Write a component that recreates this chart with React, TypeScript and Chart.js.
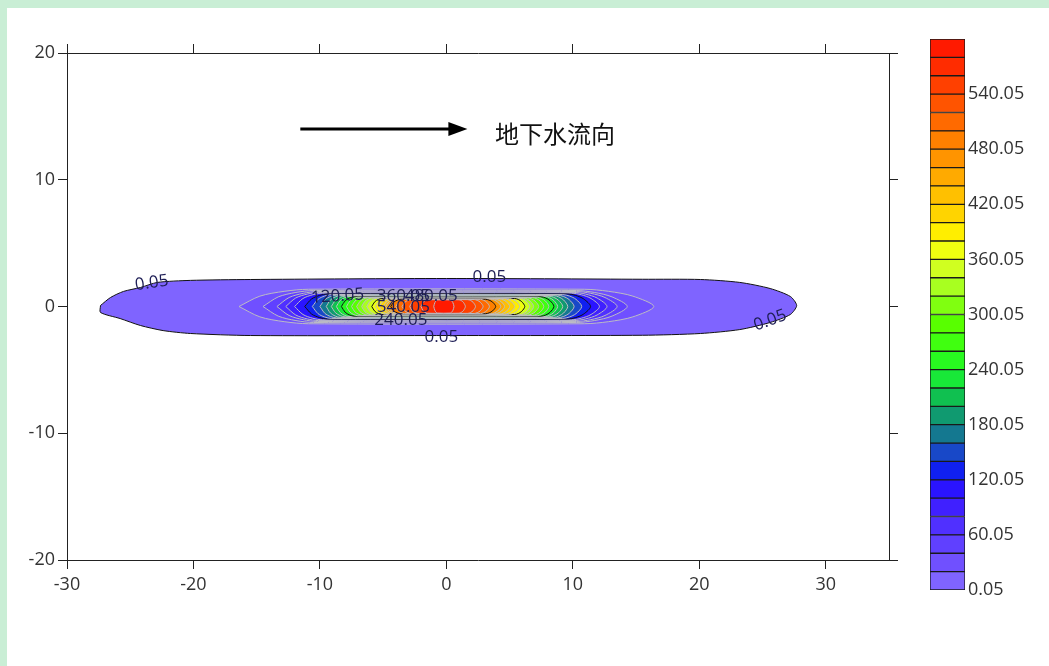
import { useEffect, useRef } from 'react';
import { Chart, registerables } from 'chart.js';
Chart.register(...registerables);

// ---- data ----
const xTicks = [-30, -20, -10, 0, 10, 20, 30];
const yTicks = [-20, -10, 0, 10, 20];

// contour levels (lower bound of each band)
const levels = [0.05, 20.05, 40.05, 60.05, 80.05, 100.05, 120.05, 140.05, 160.05, 180.05,
  200.05, 220.05, 240.05, 260.05, 280.05, 300.05, 320.05, 340.05, 360.05, 380.05,
  400.05, 420.05, 440.05, 460.05, 480.05, 500.05, 520.05, 540.05, 560.05, 580.05];
const topLevel = 600.05;
const colorbarTicks = [0.05, 60.05, 120.05, 180.05, 240.05, 300.05, 360.05, 420.05, 480.05, 540.05];

const bandColors = ['#7f64ff', '#7050ff', '#6040ff', '#5030ff', '#4020ff', '#2a14ff', '#1020f0', '#1848c8', '#147890', '#109a70',
  '#10c050', '#18e838', '#28fa20', '#40ff10', '#58ff00', '#80ff10', '#a8ff20', '#d0ff20', '#f0ff10', '#ffee00',
  '#ffd400', '#ffc000', '#ffaa00', '#ff9400', '#ff8000', '#ff6a00', '#ff5400', '#ff4000', '#ff2c00', '#ff1a00'];

// outermost (0.05) contour
const outerX = [-27.35, -26.56, -25.53, -24.19, -22.85, -20.24, -15.5, 0, 15.5, 20.1, 23.2, 25.6, 27.2, 27.7,
  27.2, 25.6, 23.2, 20.1, 15.5, 0, -15.5, -20.24, -22.4, -24.19, -25.8, -27.35, -27.35];
const outerY = [0.08, 0.71, 1.19, 1.5, 1.9, 2.06, 2.13, 2.21, 2.15, 2.13, 1.9, 1.42, 0.79, 0.08,
  -0.63, -1.26, -1.82, -2.13, -2.27, -2.29, -2.29, -2.13, -1.9, -1.5, -0.95, -0.47, 0.08];

// inner contours: left / right extent and half height per level (index 0 = outer, unused)
const leftExt = [27.5, 16.4, 14.5, 13.4, 12.7, 12.0, 11.2, 10.6, 10.0, 9.5, 9.1, 8.7, 8.3, 7.9, 7.5,
  7.1, 6.7, 6.3, 5.9, 5.6, 5.3, 5.0, 4.8, 4.6, 4.4, 4.0, 3.5, 2.9, 2.0, 1.0];
const rightExt = [27.6, 16.4, 14.3, 13.5, 12.7, 12.1, 11.4, 10.7, 10.1, 9.6, 9.2, 8.8, 8.5, 8.1, 7.7,
  7.3, 6.9, 6.6, 6.2, 5.8, 5.4, 5.0, 4.6, 4.3, 3.9, 3.4, 2.9, 2.3, 1.5, 0.6];
const halfHeight = [2.2, 1.36, 1.26, 1.18, 1.11, 1.05, 0.99, 0.94, 0.9, 0.86, 0.82, 0.79, 0.76, 0.73, 0.71,
  0.69, 0.67, 0.65, 0.63, 0.62, 0.61, 0.6, 0.59, 0.58, 0.57, 0.56, 0.55, 0.54, 0.53, 0.52];
const taper = [0, 5.5, 4.0, 3.2, 2.6, 2.2, 1.8, 1.5, 1.3, 1.1, 1.1, 1.0, 1.0, 0.9, 0.9,
  0.9, 0.8, 0.8, 0.8, 0.8, 0.8, 0.8, 0.8, 0.8, 0.8, 0.7, 0.7, 0.6, 0.5, 0.3];
const blackLevels = [0, 6, 12, 18, 24];

const contourLabels = [
  { text: '0.05', x: -23.3, y: 1.85, rot: -8 },
  { text: '0.05', x: 3.4, y: 2.3, rot: 0 },
  { text: '0.05', x: -0.4, y: -2.45, rot: 0 },
  { text: '0.05', x: 25.6, y: -1.1, rot: -20 },
  { text: '120.05', x: -8.6, y: 0.8, rot: -4 },
  { text: '360.05', x: -3.4, y: 0.8, rot: 0 },
  { text: '480.05', x: -1.2, y: 0.8, rot: 0 },
  { text: '240.05', x: -3.6, y: -1.05, rot: 0 },
  { text: '540.05', x: -3.4, y: -0.05, rot: 0 },
];

const arrowFrom = [-11.55, 14.0];
const arrowTo = [1.66, 14.0];
const flowText = '地下水流向';
const flowTextPos = [3.85, 13.6];

function contourPoints(k: number) {
  if (k === 0) return outerX.map((x, i) => ({ x, y: outerY[i] }));
  const L = leftExt[k], R = rightExt[k], b = halfHeight[k];
  const T = Math.min(taper[k], (L + R) * 0.45);
  const fx = [0, 0.3, 0.65, 1];
  const fy = [0, 0.6, 0.88, 1];
  const top: { x: number; y: number }[] = [];
  for (let i = 0; i < 4; i++) top.push({ x: -L + fx[i] * T, y: fy[i] * b });
  for (let i = 3; i >= 0; i--) top.push({ x: R - fx[i] * T, y: fy[i] * b });
  const bottom: { x: number; y: number }[] = [];
  for (let i = 1; i < 4; i++) bottom.push({ x: R - fx[i] * T, y: -fy[i] * b });
  for (let i = 3; i >= 0; i--) bottom.push({ x: -L + fx[i] * T, y: -fy[i] * b });
  return top.concat(bottom);
}

const annotate = {
  id: 'annotate',
  afterDatasetsDraw(chart: any) {
    const { ctx, scales } = chart;
    const sx = scales.x, sy = scales.y;
    ctx.save();
    // contour labels
    ctx.fillStyle = '#1e1e56';
    ctx.font = '17px "Open Sans"';
    ctx.textAlign = 'center';
    ctx.textBaseline = 'middle';
    for (const l of contourLabels) {
      ctx.save();
      ctx.translate(sx.getPixelForValue(l.x), sy.getPixelForValue(l.y));
      ctx.rotate((l.rot * Math.PI) / 180);
      ctx.fillText(l.text, 0, 0);
      ctx.restore();
    }
    // arrow
    const x0 = sx.getPixelForValue(arrowFrom[0]);
    const y0 = sy.getPixelForValue(arrowFrom[1]);
    const x1 = sx.getPixelForValue(arrowTo[0]);
    const y1 = sy.getPixelForValue(arrowTo[1]);
    ctx.strokeStyle = '#000';
    ctx.lineWidth = 3;
    ctx.beginPath();
    ctx.moveTo(x0, y0);
    ctx.lineTo(x1 - 16, y1);
    ctx.stroke();
    ctx.fillStyle = '#000';
    ctx.beginPath();
    ctx.moveTo(x1, y1);
    ctx.lineTo(x1 - 19, y1 - 7);
    ctx.lineTo(x1 - 19, y1 + 7);
    ctx.closePath();
    ctx.fill();
    // text
    ctx.fillStyle = '#111';
    ctx.font = '24px "Noto Sans CJK SC"';
    ctx.textAlign = 'left';
    ctx.textBaseline = 'middle';
    ctx.fillText(flowText, sx.getPixelForValue(flowTextPos[0]), sy.getPixelForValue(flowTextPos[1]));
    ctx.restore();
  },
};

const tickFont = { size: 18, family: '"Open Sans"' };

export default function App() {
  const mainRef = useRef<HTMLCanvasElement>(null);
  const barRef = useRef<HTMLCanvasElement>(null);

  useEffect(() => {
    const datasets = levels.map((lv, k) => ({
      label: String(lv),
      data: contourPoints(k),
      showLine: true,
      fill: 'shape',
      backgroundColor: bandColors[k],
      borderColor: blackLevels.includes(k) ? '#111' : '#bcbcc4',
      borderWidth: 1,
      pointRadius: 0,
      tension: k === 0 ? 0.25 : 0.3,
      order: 100 - k,
    }));

    const axisGrid = { display: true, drawOnChartArea: false, drawTicks: true, tickLength: 9, color: '#222', lineWidth: 1 };
    const border = { display: true, color: '#222', width: 1 };

    const main = new Chart(mainRef.current!, {
      type: 'scatter',
      data: { datasets: datasets as any },
      options: {
        animation: false,
        responsive: false,
        layout: { padding: 0 },
        plugins: { legend: { display: false }, tooltip: { enabled: false } },
        scales: {
          x: {
            type: 'linear', position: 'bottom', min: -30, max: 35,
            afterBuildTicks: (s: any) => { s.ticks = xTicks.map((v) => ({ value: v })); },
            afterFit: (s: any) => { s.height = 80; },
            ticks: { font: tickFont, color: '#333', padding: 5 },
            grid: axisGrid, border,
          },
          x2: {
            type: 'linear', position: 'top', min: -30, max: 35, axis: 'x',
            afterBuildTicks: (s: any) => { s.ticks = xTicks.map((v) => ({ value: v })); },
            afterFit: (s: any) => { s.height = 53; },
            ticks: { display: false },
            grid: axisGrid, border,
          },
          y: {
            type: 'linear', position: 'left', min: -20, max: 20,
            afterBuildTicks: (s: any) => { s.ticks = yTicks.map((v) => ({ value: v })); },
            afterFit: (s: any) => { s.width = 67; },
            ticks: { font: tickFont, color: '#333', padding: 3 },
            grid: axisGrid, border,
          },
          y2: {
            type: 'linear', position: 'right', min: -20, max: 20, axis: 'y',
            afterBuildTicks: (s: any) => { s.ticks = yTicks.map((v) => ({ value: v })); },
            afterFit: (s: any) => { s.width = 31; },
            ticks: { display: false },
            grid: axisGrid, border,
          },
        },
      } as any,
      plugins: [annotate],
    });

    const barSets = levels.map((lv, k) => ({
      label: String(lv),
      data: [[lv, k + 1 < levels.length ? levels[k + 1] : topLevel]],
      backgroundColor: bandColors[k],
      borderColor: '#1a1a1a',
      borderWidth: 1,
      borderSkipped: false,
      barPercentage: 1,
      categoryPercentage: 1,
      grouped: false,
    }));

    const bar = new Chart(barRef.current!, {
      type: 'bar',
      data: { labels: ['c'], datasets: barSets as any },
      options: {
        animation: false,
        responsive: false,
        layout: { padding: { top: 9, bottom: 20, left: 5, right: 0 } },
        plugins: { legend: { display: false }, tooltip: { enabled: false } },
        scales: {
          x: { display: false },
          y: {
            position: 'right', min: 0.05, max: topLevel,
            afterBuildTicks: (s: any) => { s.ticks = colorbarTicks.map((v) => ({ value: v })); },
            afterFit: (s: any) => { s.width = 84; s.paddingTop = 0; s.paddingBottom = 0; },
            ticks: { font: tickFont, color: '#333', padding: 3, callback: (v: any) => Number(v).toFixed(2) },
            grid: { display: false, drawTicks: false },
            border: { display: false },
          },
        },
      } as any,
    });

    return () => { main.destroy(); bar.destroy(); };
  }, []);

  return (
    <div style={{ position: 'fixed', left: 0, top: 0, width: 1049, height: 666, background: '#c9eed5', overflow: 'hidden' }}>
      <div style={{ position: 'absolute', left: 7, top: 8, right: 0, bottom: 0, background: '#fff' }} />
      <canvas ref={mainRef} width={920} height={640} style={{ position: 'absolute', left: 0, top: 0 }} />
      <canvas ref={barRef} width={124} height={580} style={{ position: 'absolute', left: 925, top: 30 }} />
    </div>
  );
}
